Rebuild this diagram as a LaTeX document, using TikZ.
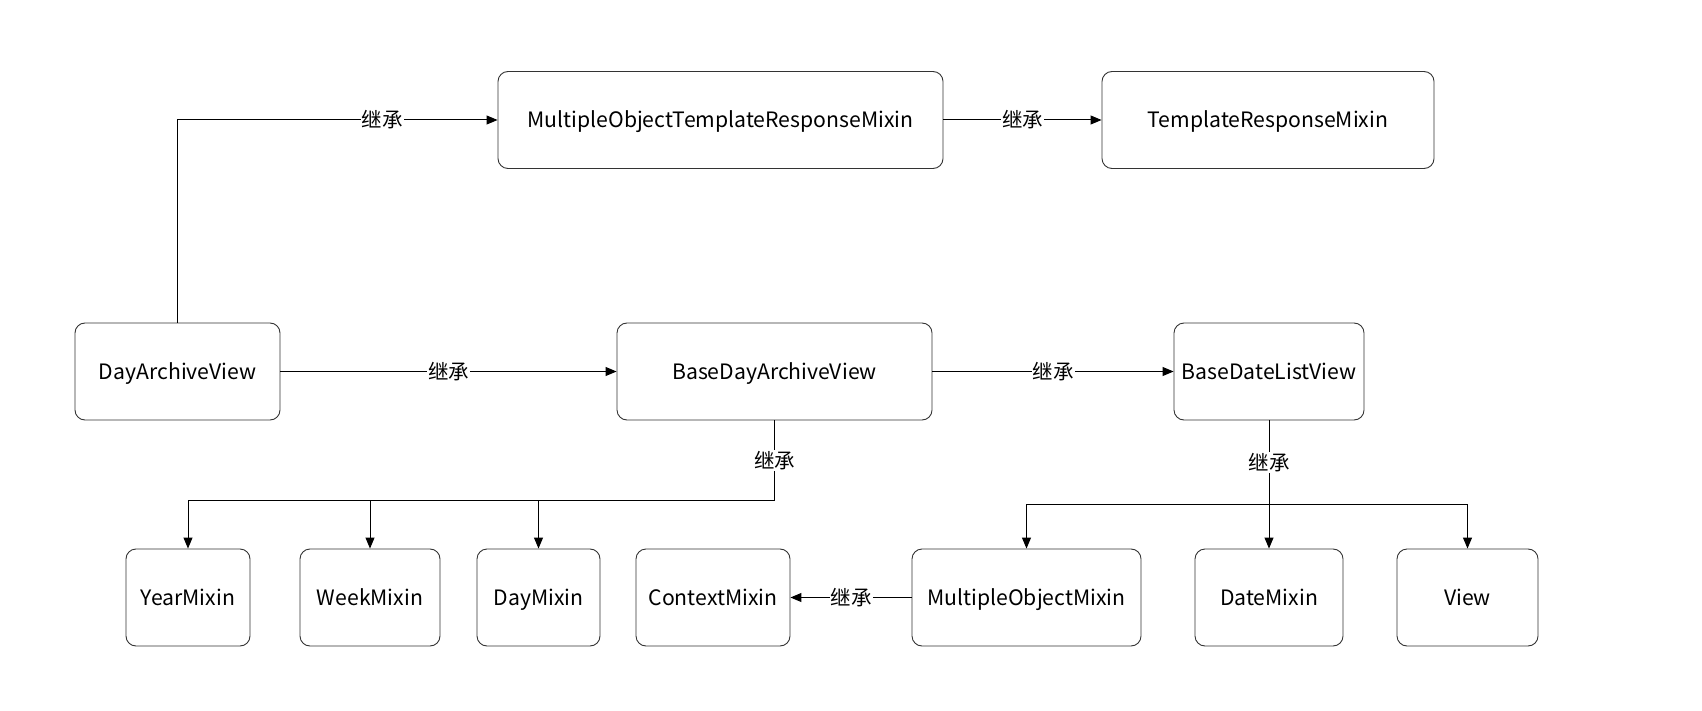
\documentclass[tikz,border=0pt]{standalone}
\usepackage{fontspec}
\setmainfont{Noto Sans CJK SC}
\usepackage{tikz}
\usetikzlibrary{arrows.meta, calc}

\tikzset{
    cls/.style={draw=black!80, line width=0.9pt, rounded corners=10pt, inner sep=0pt,
        minimum height=97pt, text height=18pt, text depth=2pt,
        font=\fontsize{21.2}{25}\selectfont},
    inh/.style={line width=1pt, -{Triangle[length=11pt, width=9pt]}},
    lbl/.style={fill=white, inner sep=1pt, font=\fontsize{20.5}{24}\selectfont}
}

\begin{document}
\begin{tikzpicture}[x=1pt, y=-1pt]
        \useasboundingbox (0, 0) rectangle (1702, 711);

        \node[cls, minimum width=445pt] (motrm) at (720.5, 120) {MultipleObjectTemplateResponseMixin};
        \node[cls, minimum width=332pt] (trm) at (1268, 120) {TemplateResponseMixin};

        \node[cls, minimum width=205pt] (dav) at (177.5, 371.5) {DayArchiveView};
        \node[cls, minimum width=315pt] (bdav) at (774.5, 371.5) {BaseDayArchiveView};
        \node[cls, minimum width=190pt] (bdlv) at (1269, 371.5) {BaseDateListView};

        \node[cls, minimum width=124pt] (year) at (188, 597.5) {YearMixin};
        \node[cls, minimum width=140pt] (week) at (370, 597.5) {WeekMixin};
        \node[cls, minimum width=123pt] (day) at (538.5, 597.5) {DayMixin};
        \node[cls, minimum width=154pt] (ctx) at (713, 597.5) {ContextMixin};
        \node[cls, minimum width=229pt] (mom) at (1026.5, 597.5) {MultipleObjectMixin};
        \node[cls, minimum width=148pt] (date) at (1269, 597.5) {DateMixin};
        \node[cls, minimum width=141pt] (view) at (1467.5, 597.5) {View};

        \coordinate (busL) at (774.5, 500);
        \coordinate (busR) at (1269, 504);

        \draw[inh] (dav.north) |- node[lbl, pos=0.82] {继承} (motrm.west);
        \draw[inh] (motrm) -- node[lbl] {继承} (trm);
        \draw[inh] (dav) -- node[lbl] {继承} (bdav);
        \draw[inh] (bdav) -- node[lbl] {继承} (bdlv);
        \draw[inh] (mom) -- node[lbl] {继承} (ctx);

        \draw[line width=1pt] (bdav.south) -- node[lbl] {继承} (busL);
        \draw[inh] (busL) -| (year.north);
        \draw[inh] (busL) -| (week.north);
        \draw[inh] (busL) -| (day.north);

        \draw[line width=1pt] (bdlv.south) -- node[lbl] {继承} (busR);
        \draw[inh] (busR) -| (mom.north);
        \draw[inh] (busR) -- (date.north);
        \draw[inh] (busR) -| (view.north);

    \end{tikzpicture}
\end{document}
